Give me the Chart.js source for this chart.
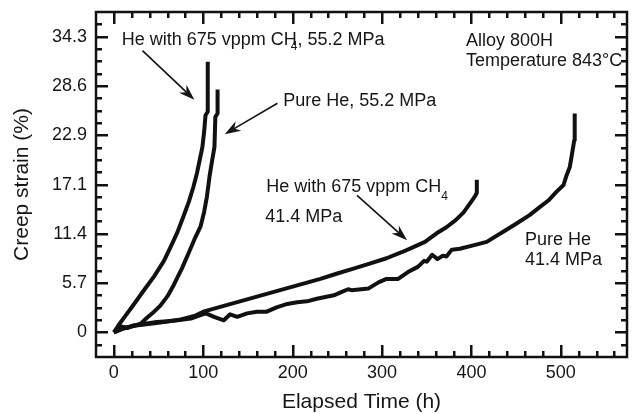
<!DOCTYPE html>
<html><head><meta charset="utf-8">
<script src="https://cdn.jsdelivr.net/npm/chart.js@4.4.1/dist/chart.umd.min.js"></script>
<style>html,body{margin:0;padding:0;background:#fff}#wrap{width:633px;height:414px}</style>
</head><body><div id="wrap"><canvas id="c" width="633" height="414"></canvas></div>
<script>
// ---- tick labels ----
const xTicks = [0, 100, 200, 300, 400, 500];
const yTicks = [0, 5.7, 11.4, 17.1, 22.9, 28.6, 34.3];
const yTickLabels = ['0', '5.7', '11.4', '17.1', '22.9', '28.6', '34.3'];

// ---- series (hours, creep strain %) ----
const ch4_552_hours  = [0,5,12,22,33,45,56,63,71,78,84,89,93,96,99,101,102.5,105,105];
const ch4_552_strain = [0,0.8,1.8,3.2,4.8,6.5,8.3,9.8,11.6,13.5,15.2,16.9,18.5,20,21.5,23.3,25.2,25.6,31.4];

const he_552_hours  = [0,10,20,30,37,45,52,60,67,76,84,91,97,101,104,107,110,112.5,113.5,116,116];
const he_552_strain = [0,0.4,0.7,1.0,1.7,2.4,3.1,4.2,5.5,7.4,9.3,11.0,12.3,14.0,15.7,18.1,20,21.5,25.0,25.4,28.2];

const ch4_414_hours  = [0,10,25,50,75,90,100,231,249,268,287,305,322,335,348,361,372,382,391,400,404,406,406];
const ch4_414_strain = [0,0.5,0.8,1.1,1.5,1.9,2.4,6.2,6.8,7.4,8.0,8.6,9.3,9.9,10.5,11.5,12.2,13.0,13.9,15.2,15.8,16.2,17.7];

const he_414_hours  = [0,8,15,22,35,48,60,71,86,97,103,112,123,130,138,149,160,171,182,194,205,216,227,246,255,262,266,285,296,305,318,329,340,347,350,356,362,368,372,378,387,402,417,436,450,465,476,486,495,503,506,510,512,515,515.5];
const he_414_strain = [0,0.7,0.5,0.8,1.0,1.2,1.3,1.4,1.6,2.0,2.2,1.8,1.4,2.1,1.8,2.2,2.4,2.4,2.9,3.3,3.5,3.6,3.9,4.3,4.7,5.0,4.9,5.1,5.8,6.2,6.2,7.0,7.6,8.3,8.2,9.0,8.5,8.9,8.8,9.6,9.7,10.1,10.5,11.7,12.6,13.6,14.5,15.3,16.3,17.1,18.1,19.2,20.4,22.3,25.4];

// ---- axis ranges / minor tick values ----
const xRange = [-20, 574];
const yRange = [-2.86, 37.18];
const xMinor = [20,40,60,80,120,140,160,180,220,240,260,280,320,340,360,380,420,440,460,480,520,540,560];
const yMinor = [-1.43,1.43,2.86,4.29,7.15,8.58,10.01,12.87,14.3,15.73,18.59,20.02,21.45,24.31,25.74,27.17,30.03,31.46,32.89,35.75];

// ---- annotations (positions in data units: hours, strain) ----
const notes = [
  {parts:[['He with 675 vppm CH',0],['4',1],[', 55.2 MPa',0]], h:8.7,  v:33.37},
  {parts:[['Pure He, 55.2 MPa',0]],                          h:189.5, v:26.28},
  {parts:[['He with 675 vppm CH',0],['4',2]],                 h:170.5, v:16.34},
  {parts:[['41.4 MPa',0]],                                    h:169.4, v:12.79},
  {parts:[['Pure He',0]],                                     h:459.8, v:10.12},
  {parts:[['41.4 MPa',0]],                                    h:459.8, v:7.79},
  {parts:[['Alloy 800H',0]],                                  h:393.9, v:33.26},
  {parts:[['Temperature 843°C',0]],                           h:393.9, v:30.93}
];
const arrows = [
  {h0:32, v0:32.7, h1:90,  v1:27.0},
  {h0:183,v0:26.6, h1:124, v1:23.0},
  {h0:272,v0:15.9, h1:328, v1:10.7}
];

const FONT = "'Liberation Sans', Arial, Helvetica, sans-serif";
const INK = '#161616';
const pts = (hs, ss) => hs.map((h, i) => ({x: h, y: ss[i]}));
const lineDs = (label, data) => ({label, data, borderColor: '#111', borderWidth: 4, pointRadius: 0, tension: 0, fill: false, borderJoinStyle: 'round'});

const frame = {
  id: 'frame',
  afterDraw(chart) {
    const ctx = chart.ctx, a = chart.chartArea, x = chart.scales.x, y = chart.scales.y;
    ctx.save();
    ctx.fillStyle = '#111';
    const xAll = xTicks.map(v => [v, 12]).concat(xMinor.map(v => [v, 6]));
    for (const [v, L] of xAll) {
      const px = Math.round(x.getPixelForValue(v));
      ctx.fillRect(px - 1, a.bottom - L, 2.5, L);
      ctx.fillRect(px - 1, a.top, 2.5, L);
    }
    const yAll = yTicks.map(v => [v, 12]).concat(yMinor.map(v => [v, 6]));
    for (const [v, L] of yAll) {
      const py = Math.round(y.getPixelForValue(v));
      ctx.fillRect(a.left, py - 1, L, 2.5);
      ctx.fillRect(a.right - L, py - 1, L, 2.5);
    }
    ctx.strokeStyle = '#111';
    ctx.lineWidth = 2.5;
    ctx.strokeRect(a.left, a.top, a.right - a.left, a.bottom - a.top);

    // annotations
    ctx.fillStyle = INK;
    ctx.textBaseline = 'alphabetic';
    ctx.textAlign = 'left';
    for (const nt of notes) {
      let px = x.getPixelForValue(nt.h);
      const py = y.getPixelForValue(nt.v);
      for (const [t, sub] of nt.parts) {
        if (sub) {
          ctx.font = '12px ' + FONT;
          const dx = sub === 1 ? -6 : 0;
          const dy = sub === 1 ? 5 : 8;
          ctx.fillText(t, px + dx, py + dy);
          px += ctx.measureText(t).width + dx;
        } else {
          ctx.font = '18px ' + FONT;
          ctx.fillText(t, px, py);
          px += ctx.measureText(t).width;
        }
      }
    }
    // arrows
    ctx.strokeStyle = INK;
    ctx.lineWidth = 1.7;
    for (const r of arrows) {
      const x0 = x.getPixelForValue(r.h0), y0 = y.getPixelForValue(r.v0);
      const x1 = x.getPixelForValue(r.h1), y1 = y.getPixelForValue(r.v1);
      const ang = Math.atan2(y1 - y0, x1 - x0);
      const c = Math.cos(ang), s = Math.sin(ang);
      const len = 16, hw = 5.5;
      const bx = x1 - len * c, by = y1 - len * s;
      ctx.beginPath(); ctx.moveTo(x0, y0);
      ctx.lineTo(x1 - 8 * c, y1 - 8 * s); ctx.stroke();
      ctx.beginPath();
      ctx.moveTo(x1, y1);
      ctx.lineTo(bx - s * hw, by + c * hw);
      ctx.lineTo(x1 - 11 * c, y1 - 11 * s);
      ctx.lineTo(bx + s * hw, by - c * hw);
      ctx.closePath(); ctx.fill();
    }
    ctx.restore();
  }
};

new Chart(document.getElementById('c'), {
  type: 'line',
  data: {
    datasets: [
      lineDs('He with 675 vppm CH4, 55.2 MPa', pts(ch4_552_hours, ch4_552_strain)),
      lineDs('Pure He, 55.2 MPa', pts(he_552_hours, he_552_strain)),
      lineDs('He with 675 vppm CH4, 41.4 MPa', pts(ch4_414_hours, ch4_414_strain)),
      lineDs('Pure He, 41.4 MPa', pts(he_414_hours, he_414_strain))
    ]
  },
  options: {
    responsive: false,
    devicePixelRatio: 1,
    animation: false,
    layout: {padding: {top: 12, right: 6, left: 0, bottom: 0}},
    plugins: {legend: {display: false}, tooltip: {enabled: false}},
    scales: {
      x: {
        type: 'linear', min: xRange[0], max: xRange[1],
        grid: {display: false, drawTicks: false}, border: {display: false},
        afterBuildTicks: s => { s.ticks = xTicks.map(v => ({value: v})); },
        afterFit: s => { s.height = 57; s.paddingLeft = 0; s.paddingRight = 0; },
        ticks: {autoSkip: false, maxRotation: 0, padding: 5, color: INK, font: {family: FONT, size: 18}, callback: v => String(v)},
        title: {display: true, text: 'Elapsed Time (h)', color: INK, font: {family: FONT, size: 21, lineHeight: 1.08}, padding: 0}
      },
      y: {
        type: 'linear', min: yRange[0], max: yRange[1],
        grid: {display: false, drawTicks: false}, border: {display: false},
        afterBuildTicks: s => { s.ticks = yTicks.map(v => ({value: v})); },
        afterFit: s => { s.width = 96; s.paddingTop = 0; s.paddingBottom = 0; },
        ticks: {autoSkip: false, padding: 9, color: INK, font: {family: FONT, size: 18}, callback: v => { const i = yTicks.indexOf(v); return i >= 0 ? yTickLabels[i] : ''; }},
        title: {display: true, text: 'Creep strain (%)', color: INK, font: {family: FONT, size: 21, lineHeight: 1.08}, padding: {top: 10.4, bottom: 0}}
      }
    }
  },
  plugins: [frame]
});
</script>
</body></html>
